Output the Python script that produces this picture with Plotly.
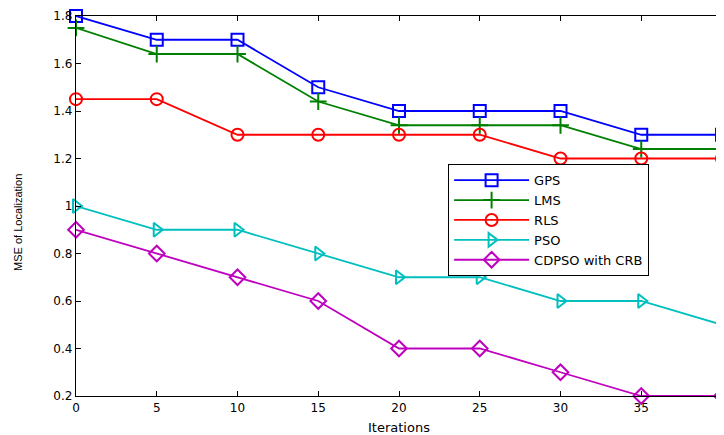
import plotly.graph_objects as go

iterations = [0, 5, 10, 15, 20, 25, 30, 35, 40]
gps = [1.8, 1.7, 1.7, 1.5, 1.4, 1.4, 1.4, 1.3, 1.3]
lms = [1.75, 1.64, 1.64, 1.44, 1.34, 1.34, 1.34, 1.24, 1.24]
rls = [1.45, 1.45, 1.3, 1.3, 1.3, 1.3, 1.2, 1.2, 1.2]
pso = [1.0, 0.9, 0.9, 0.8, 0.7, 0.7, 0.6, 0.6, 0.5]
cdpso = [0.9, 0.8, 0.7, 0.6, 0.4, 0.4, 0.3, 0.2, 0.2]

y_ticks = [0.2, 0.4, 0.6, 0.8, 1.0, 1.2, 1.4, 1.6, 1.8]
y_labels = ["0.2", "0.4", "0.6", "0.8", "1", "1.2", "1.4", "1.6", "1.8"]
x_ticks = [0, 5, 10, 15, 20, 25, 30, 35, 40]

series = [
    ("GPS", gps, "#0000FF", "square-open"),
    ("LMS", lms, "#008000", "cross-thin-open"),
    ("RLS", rls, "#FF0000", "circle-open"),
    ("PSO", pso, "#00BFBF", "triangle-right-open"),
    ("CDPSO with CRB", cdpso, "#BF00BF", "diamond-open"),
]

fig = go.Figure()
for name, vals, color, sym in series:
    fig.add_trace(go.Scatter(
        x=iterations, y=vals, name=name, mode="lines+markers",
        line=dict(color=color, width=1.8),
        marker=dict(symbol=sym, size=12, color=color,
                    line=dict(color=color, width=2)),
        cliponaxis=False,
    ))

axis_common = dict(
    showgrid=False, zeroline=False, showline=True, linecolor="black",
    linewidth=1.3, mirror="ticks", ticks="inside", ticklen=5,
    tickcolor="black",
    tickfont=dict(size=12, color="black", family="DejaVu Sans, sans-serif"),
)

fig.update_layout(
    width=716, height=427,
    margin=dict(l=68, r=2, t=8, b=39),
    paper_bgcolor="white", plot_bgcolor="white",
    font=dict(family="DejaVu Sans, Liberation Sans, sans-serif", color="black"),
    xaxis=dict(range=[0, 40], tickvals=x_ticks, **axis_common),
    yaxis=dict(range=[0.2, 1.8], tickvals=y_ticks, ticktext=y_labels, **axis_common),
    legend=dict(x=0.576, y=0.61, xanchor="left", yanchor="top",
                bgcolor="white", bordercolor="black", borderwidth=1,
                font=dict(size=13, family="DejaVu Sans, sans-serif"),
                itemwidth=75, tracegroupgap=0),
    showlegend=True,
    annotations=[
        dict(text="Iterations", xref="paper", yref="paper", x=0.5, y=-0.084,
             xanchor="center", yanchor="middle", showarrow=False,
             font=dict(size=13, family="DejaVu Sans, sans-serif")),
        dict(text="MSE of Localization", xref="paper", yref="paper",
             x=-0.0898, y=0.458, xanchor="center", yanchor="middle",
             textangle=-90, showarrow=False,
             font=dict(size=11, family="Liberation Sans, Arial, sans-serif")),
    ],
)

fig.write_html("out.html")
